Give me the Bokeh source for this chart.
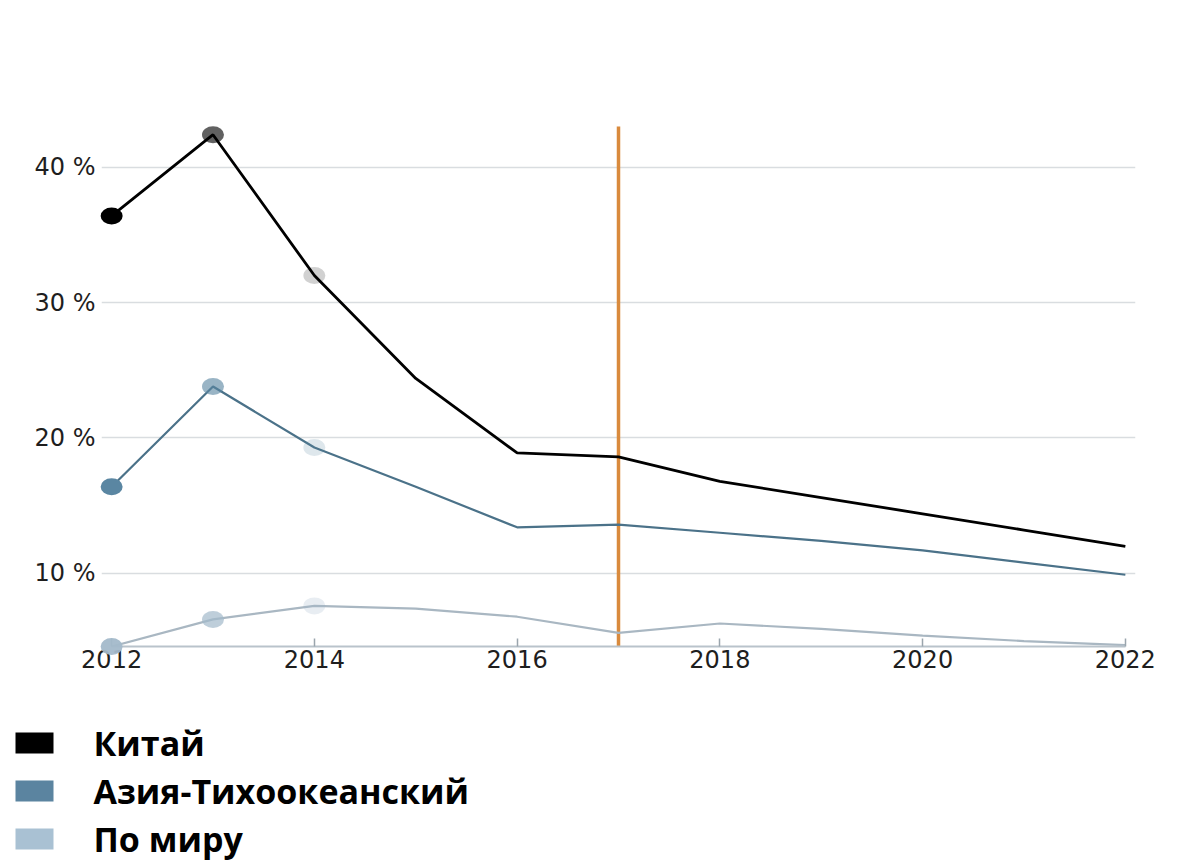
from bokeh.plotting import figure
from bokeh.layouts import column
from bokeh.models import Range1d, FixedTicker, PrintfTickFormatter, ColumnDataSource
from bokeh.core.properties import value
from bokeh.embed import file_html
from bokeh.resources import INLINE

# ---- data ----
years = [2012, 2013, 2014, 2015, 2016, 2017, 2018, 2019, 2020, 2021, 2022]
china = [36.4, 42.4, 32.0, 24.4, 18.9, 18.6, 16.8, 15.6, 14.4, 13.2, 12.0]
asia_pacific = [16.4, 23.8, 19.3, 16.4, 13.4, 13.6, 13.0, 12.4, 11.7, 10.8, 9.9]
world = [4.6, 6.6, 7.6, 7.4, 6.8, 5.6, 6.3, 5.9, 5.4, 5.0, 4.7]

marker_years = [2012, 2013, 2014]
marker_alpha = {
    "china": [1.0, 0.62, 0.18],
    "asia": [1.0, 0.62, 0.2],
    "world": [0.95, 0.7, 0.25],
}

series_names = ["Китай", "Азия-Тихоокеанский", "По миру"]
line_colors = ["#000000", "#4b7289", "#a9b7c2"]
marker_colors = ["#000000", "#5a86a2", "#a3b9ca"]
legend_colors = ["#000000", "#5b84a0", "#a9c1d3"]

event_year = [2017]
event_top = [43.0]
axis_base = 4.6

x_ticks = [2012, 2014, 2016, 2018, 2020, 2022]
y_ticks = [10, 20, 30, 40]

BL, BR = 101, 35  # left / right borders shared by both strips

# ---- main figure ----
p = figure(width=1170, height=700, output_backend="svg", toolbar_location=None,
           x_range=Range1d(2011.9, 2022.1), y_range=Range1d(axis_base, 45.0),
           min_border_left=BL, min_border_right=BR, min_border_top=99, min_border_bottom=54)
p.outline_line_color = None
p.background_fill_color = "white"
p.border_fill_color = "white"

p.xgrid.visible = False
p.ygrid.ticker = FixedTicker(ticks=y_ticks)
p.ygrid.grid_line_color = "#d9dde0"
p.ygrid.grid_line_width = 1.5
p.ygrid.bounds = (2012, 2022)

xa = p.xaxis[0]
xa.ticker = FixedTicker(ticks=x_ticks)
xa.bounds = (2012, 2022)
xa.axis_line_color = "#b9c3cb"
xa.axis_line_width = 2
xa.major_tick_in = 8
xa.major_tick_out = 0
xa.major_tick_line_color = "#9aa5ad"
xa.major_tick_line_width = 1.5
xa.minor_tick_line_color = None
xa.major_label_text_font = "DejaVu Sans"
xa.major_label_text_font_size = "24px"
xa.major_label_text_color = "#1e1e1e"
xa.major_label_standoff = 3

ya = p.yaxis[0]
ya.ticker = FixedTicker(ticks=y_ticks)
ya.formatter = PrintfTickFormatter(format="%d %%")
ya.axis_line_color = None
ya.major_tick_line_color = None
ya.minor_tick_line_color = None
ya.major_label_text_font = "DejaVu Sans"
ya.major_label_text_font_size = "24px"
ya.major_label_text_color = "#1e1e1e"
ya.major_label_standoff = 0

# event line
p.segment(x0=event_year, y0=[axis_base], x1=event_year, y1=event_top,
          line_color="#d98a3d", line_width=3.5)

# faded markers on the first three years
for vals, key, col in [(china, "china", marker_colors[0]),
                       (asia_pacific, "asia", marker_colors[1]),
                       (world, "world", marker_colors[2])]:
    src = ColumnDataSource(dict(x=marker_years, y=vals[:3], a=marker_alpha[key]))
    p.ellipse(x="x", y="y", width=22, height=17, width_units="screen", height_units="screen",
              fill_color=col, fill_alpha="a", line_color=None, source=src, level="overlay")

# lines
p.line(years, world, line_color=line_colors[2], line_width=2.2)
p.line(years, asia_pacific, line_color=line_colors[1], line_width=2.2)
p.line(years, china, line_color=line_colors[0], line_width=2.8)

# ---- legend strip (pixel coordinates, same frame as the chart) ----
LH = 164
lf = figure(width=1170, height=LH, output_backend="svg", toolbar_location=None,
            x_range=Range1d(BL, 1170 - BR), y_range=Range1d(LH, 0),
            x_axis_location=None, y_axis_location=None,
            min_border_left=BL, min_border_right=BR, min_border_top=0, min_border_bottom=0)
lf.grid.visible = False
lf.outline_line_color = None
lf.background_fill_color = "white"
lf.border_fill_color = "white"

pitch = 48
row_c = [42.5 + i * pitch for i in range(len(series_names))]
lsrc = ColumnDataSource(dict(
    sx=[34] * len(series_names),
    sy=row_c,
    tx=[93] * len(series_names),
    ty=row_c,
    color=legend_colors,
    name=series_names,
))
lf.rect(x="sx", y="sy", width=38, height=21, fill_color="color", line_color=None,
        source=lsrc, level="overlay")
lf.text(x="tx", y="ty", text="name", text_font=value("Open Sans"), text_font_style="bold",
        text_font_size="34px", text_color="#000000", text_baseline="middle",
        text_align="left", source=lsrc, level="overlay")

layout = column(p, lf, spacing=0)
open("out.html", "w").write(file_html(layout, INLINE))
